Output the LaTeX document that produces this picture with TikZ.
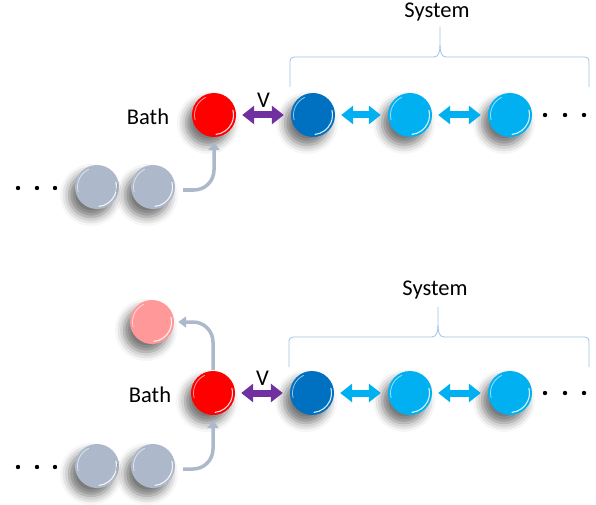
\documentclass[tikz,border=0pt]{standalone}
\usepackage{fontspec}
\setmainfont{Carlito}
\usetikzlibrary{arrows.meta,shadows.blur}

\definecolor{ballred}{HTML}{FF0000}
\definecolor{balldark}{HTML}{0070C0}
\definecolor{balllight}{HTML}{00B0F0}
\definecolor{ballgrey}{HTML}{ADB9CA}
\definecolor{ballpink}{HTML}{FF9999}
\definecolor{coupling}{HTML}{7030A0}
\definecolor{bracecol}{HTML}{9DC3E6}

\tikzset{
  ball/.style={circle, minimum size=44pt, inner sep=0pt, fill=#1,
    blur shadow={shadow xshift=-6pt, shadow yshift=-8pt,
                 shadow blur radius=9pt, shadow opacity=55},
    path picture={
      \draw[white, opacity=.6, line width=.8pt]
        ([shift={(115:19.5pt)}]path picture bounding box.center) arc (115:195:19.5pt);
      \draw[white, opacity=.85, line width=1.1pt]
        ([shift={(-85:19.5pt)}]path picture bounding box.center) arc (-85:15:19.5pt);
    }},
  label/.style={font=\fontsize{22.5}{26}\selectfont, inner sep=0pt},
  coup/.style={line width=7pt, draw=coupling,
    {Triangle[width=18pt,length=12pt]}-{Triangle[width=18pt,length=12pt]},
    shorten <=6pt, shorten >=7pt},
  hop/.style={coup, draw=balllight},
  feed/.style={line width=3.5pt, draw=ballgrey,
    -{Triangle[width=11pt,length=8pt]}, rounded corners=20pt},
  bracket/.style={draw=bracecol, line width=.8pt},
}

\begin{document}
\begin{tikzpicture}[x=1pt, y=1pt]
\useasboundingbox (0,0) rectangle (596,504);

% ---------- upper chain ----------
\node[ball=ballgrey]  (ga1) at (97,317) {};
\node[ball=ballgrey]  (ga2) at (153,317) {};
\node[ball=ballred]   (ra)  at (214,389) {};
\node[ball=balldark]  (sa1) at (313,389) {};
\node[ball=balllight] (sa2) at (410,389) {};
\node[ball=balllight] (sa3) at (510,389) {};

\node[label] (batha) at (148,387) {Bath};
\node[label] (sysa)  at (437,492) {System};

\draw[coup] (ra) -- node[label, above=4pt] (va) {V} (sa1);
\draw[hop] (sa1) -- (sa2);
\draw[hop] (sa2) -- (sa3);
\draw[feed] ([xshift=8pt,yshift=-3pt]ga2.east) -| ([yshift=-5pt]ra.south);

\foreach \x in {545,565,584} \fill (\x,389) circle (2.2pt);
\foreach \x in {18,37,55} \fill (\x,316) circle (2.2pt);

\draw[bracket, rounded corners=4pt] (290,417) |- (434,447);
\draw[bracket] (434,447) to[out=0,in=-90] (440,459) -- (440,477);
\draw[bracket, rounded corners=4pt] (589,417) |- (446,447);
\draw[bracket] (446,447) to[out=180,in=-90] (440,459);

% ---------- lower chain ----------
\node[ball=ballpink]  (pb)  at (152,182) {};
\node[ball=ballgrey]  (gb1) at (97,38) {};
\node[ball=ballgrey]  (gb2) at (153,38) {};
\node[ball=ballred]   (rb)  at (213,111) {};
\node[ball=balldark]  (sb1) at (312,111) {};
\node[ball=balllight] (sb2) at (410,111) {};
\node[ball=balllight] (sb3) at (510,111) {};

\node[label] (bathb) at (150,109) {Bath};
\node[label] (sysb)  at (435,214) {System};

\draw[coup] (rb) -- node[label, above=4pt] (vb) {V} (sb1);
\draw[hop] (sb1) -- (sb2);
\draw[hop] (sb2) -- (sb3);
\draw[feed] ([xshift=8pt,yshift=-3pt]gb2.east) -| ([yshift=-5pt]rb.south);
\draw[feed] ([yshift=1pt]rb.north) |- ([xshift=4pt]pb.east);

\foreach \x in {545,565,584} \fill (\x,111) circle (2.2pt);
\foreach \x in {18,37,55} \fill (\x,37) circle (2.2pt);

\draw[bracket, rounded corners=4pt] (289,137) |- (432,167);
\draw[bracket] (432,167) to[out=0,in=-90] (438,179) -- (438,197);
\draw[bracket, rounded corners=4pt] (589,137) |- (444,167);
\draw[bracket] (444,167) to[out=180,in=-90] (438,179);
\end{tikzpicture}
\end{document}
